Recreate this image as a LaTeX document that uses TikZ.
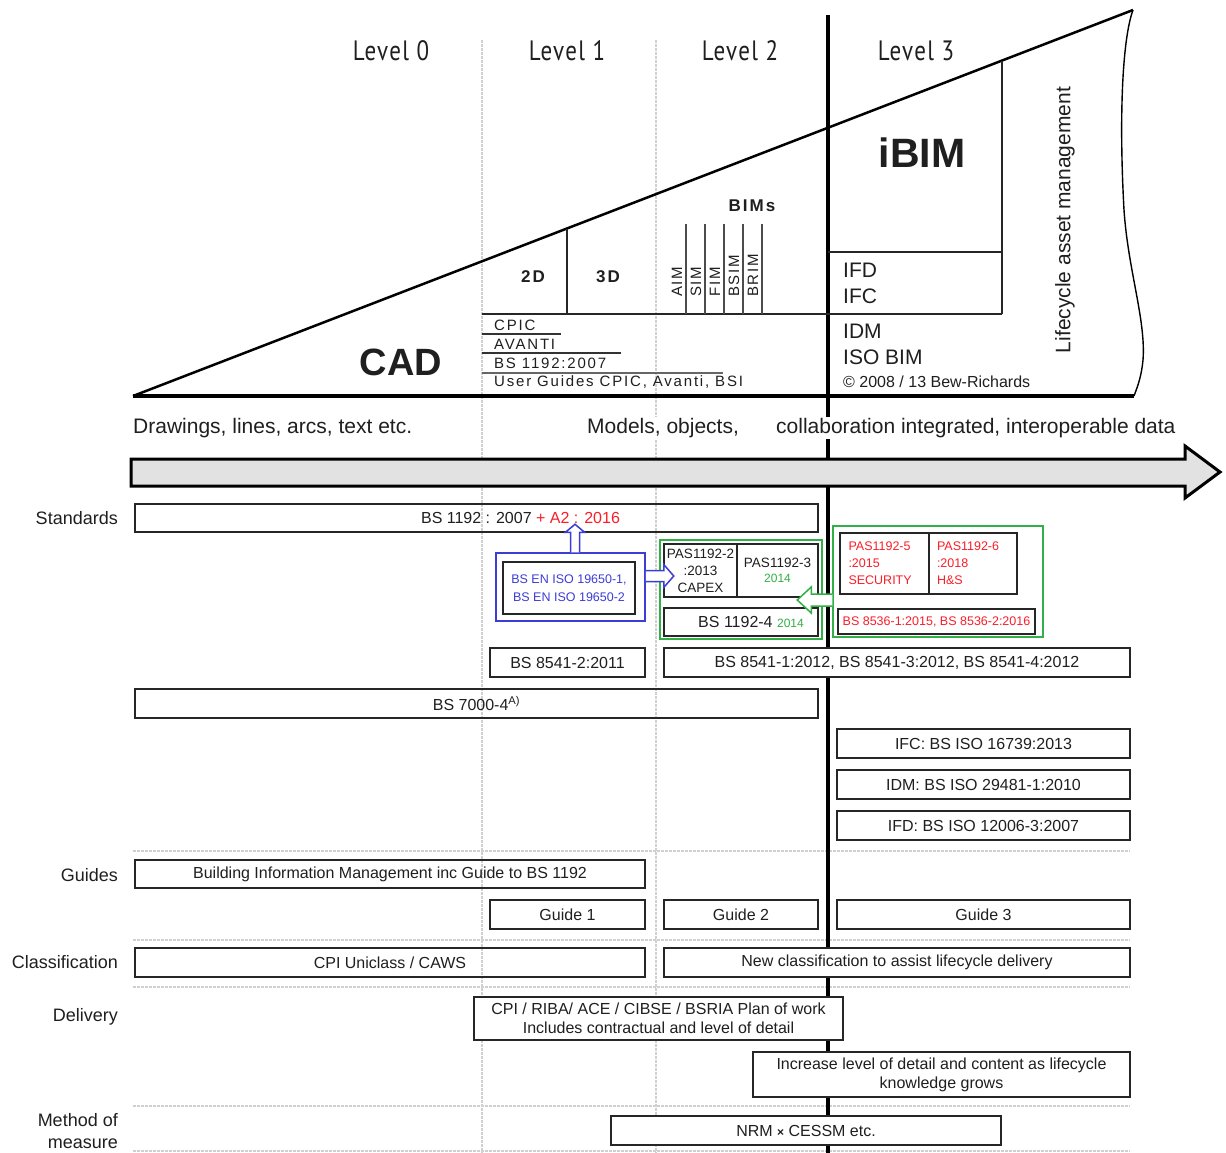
\documentclass[tikz,border=0pt]{standalone}
\usepackage{fontspec}
\setmainfont{Liberation Sans}
\newfontfamily\spacedfont[LetterSpace=12]{Liberation Sans}
\newfontfamily\levelfont[FakeStretch=0.82,LetterSpace=5]{PT Sans}
\usetikzlibrary{calc}
\newcommand\fsz[2]{\fontsize{#1}{#2}\selectfont}
\definecolor{stdred}{RGB}{250,30,40}
\definecolor{stdgreen}{RGB}{50,175,70}
\definecolor{stdblue}{RGB}{60,60,215}
\definecolor{rulegray}{RGB}{208,208,208}
\definecolor{barfill}{RGB}{226,226,226}
\begin{document}
\begin{tikzpicture}[x=1pt,y=-1pt,line join=miter,
  txt/.style={text=black!88, inner sep=0},
  bx/.style={draw=black!85, line width=2.2, inner sep=1, align=center, text=black!88, font=\fsz{16}{19}},
  wbx/.style={bx, fill=white},
  lab/.style={anchor=east, inner sep=0, text=black!88, font=\fsz{18}{22}, align=right},
  rowtxt/.style={anchor=west, inner sep=1, fill=white, text=black!88, font=\fsz{21}{24}},
  grule/.style={draw=rulegray, line width=1.6, dash pattern=on 3pt off 1pt},
  frame/.style={line width=2.2, draw=black!85},
  bimtick/.style={line width=1.8, draw=black!70},
  ul/.style={line width=1.6, draw=black!80},
  lvl/.style={txt, font=\levelfont\fsz{28}{30}},
  spc/.style={txt, font=\spacedfont\fsz{15}{18}},
  pics/hollowarrow/.style n args={5}{code={
    \draw[line width=1.5, fill=white, draw=#1]
      (0,-#3) -- ({#2-#5},-#3) -- ({#2-#5},-#4) -- (#2,0) -- ({#2-#5},#4) -- ({#2-#5},#3) -- (0,#3);
  }}]
\useasboundingbox (0,0) rectangle (1226,1153);
\fill[white] (0,0) rectangle (1226,1153);

% level dividers and row separators
\draw[grule] (482,40) -- (482,1153);
\draw[grule] (656,40) -- (656,1153);
\foreach \yy in {851,940,987,1106,1151} \draw[grule] (133,\yy) -- (1130,\yy);
\draw[line width=4] (828,15) -- (828,1153);

% maturity triangle
\coordinate (tl) at (133,396);
\coordinate (apex) at (1133,10);
\coordinate (br) at (1134,396);
\draw[line width=2.5] (tl) -- (apex);
\draw[line width=3.2] (tl) -- (br);
\draw[line width=1.4] (apex) .. controls (1122,40) and (1119,120) .. (1124,210)
  .. controls (1128,270) and (1146,320) .. (1143,360)
  .. controls (1141,380) and (1136,390) .. (br);
\draw[frame] (482,314) -- (1002,314);
\draw[frame] (567,228.5) -- (567,314);
\draw[frame] (1002,60.6) -- (1002,314);
\draw[frame] (828,252) -- (1002,252);
\foreach \xx in {686,705,724,743,762} \draw[bimtick] (\xx,224) -- (\xx,314);
\draw[ul] (482,334) -- (561,334);
\draw[ul] (482,353) -- (621,353);
\draw[ul, draw=black!60] (482,373) -- (723,373);

% level headings
\node[lvl] (lv0) at (391,51) {Level 0};
\node[lvl] (lv1) at (567,51) {Level 1};
\node[lvl] (lv2) at (740,51) {Level 2};
\node[lvl] (lv3) at (916,51) {Level 3};

% triangle contents
\node[txt, font=\fsz{38}{40}\bfseries] (cad) at (401,362) {CAD};
\node[txt, font=\spacedfont\bfseries\fsz{17}{20}] (d2) at (533,277) {2D};
\node[txt, font=\spacedfont\bfseries\fsz{17}{20}] (d3) at (608,277) {3D};
\node[txt, font=\spacedfont\bfseries\fsz{17}{20}] (bims) at (752,206) {BIMs};
\node[spc, rotate=90, anchor=west] (aim) at (677,297) {AIM};
\node[spc, rotate=90, anchor=west] (sim) at (696,297) {SIM};
\node[spc, rotate=90, anchor=west] (fim) at (715,297) {FIM};
\node[spc, rotate=90, anchor=west] (bsim) at (734,297) {BSIM};
\node[spc, rotate=90, anchor=west] (brim) at (753,297) {BRIM};
\node[spc, anchor=west] (cpic) at (494,325) {CPIC};
\node[spc, anchor=west] (avanti) at (494,344) {AVANTI};
\node[spc, anchor=west] (bs2007) at (494,363) {BS 1192:2007};
\node[spc, anchor=west] (ugs) at (494,382) {User Guides CPIC, Avanti, BSI};
\node[txt, font=\bfseries\fsz{41}{44}] (ibim) at (922,153) {iBIM};
\node[txt, anchor=west, font=\fsz{21}{24}] (ifdt) at (843,270) {IFD};
\node[txt, anchor=west, font=\fsz{21}{24}] (ifct) at (843,296) {IFC};
\node[txt, anchor=west, font=\fsz{21}{24}] (idmt) at (843,331) {IDM};
\node[txt, anchor=west, font=\fsz{21}{24}] (isobim) at (843,357) {ISO BIM};
\node[txt, anchor=west, font=\fsz{16}{19}] (copy) at (843,382) {\textcopyright\ 2008 / 13 Bew-Richards};
\node[txt, rotate=90, font=\fsz{21}{24}] (lam) at (1065,220) {Lifecycle asset management};

% progression arrow
\node[rowtxt] (drw) at (132,428) {Drawings, lines, arcs, text etc.};
\node[rowtxt] (mdl) at (586,428) {Models, objects,};
\node[rowtxt] (col) at (775,428) {collaboration integrated, interoperable data};
\draw[line width=3, fill=barfill] (131,459) -- (1185,459) -- (1185,446) -- (1220,472)
  -- (1185,498) -- (1185,486) -- (131,486) -- cycle;

% standards
\node[lab] (lstd) at (118,518) {Standards};
\node[bx, minimum width=683, minimum height=28] (bs1192) at (476.5,518) {};
\node[txt, font=\fsz{16}{19}] (bs1192t) at ($(bs1192.center)+(44,0)$) {BS 1192 : 2007 {\color{stdred}+ A2 : 2016}};

\node[draw=stdblue, line width=1.5, minimum width=149, minimum height=68] (isoout) at (570.5,587) {};
\node[bx, line width=2, minimum width=132, minimum height=52, text=stdblue, font=\fsz{12.5}{18}] (iso) at (569,588) {BS EN ISO 19650-1,\\BS EN ISO 19650-2};

\node[draw=stdgreen, line width=1.5, minimum width=162, minimum height=99] (gleft) at (741,589.5) {};
\node[bx, line width=2, minimum width=73, minimum height=53, font=\fsz{13.5}{17}] (pas2) at (700.5,570.5) {PAS1192-2\\:2013\\CAPEX};
\node[bx, line width=2, minimum width=81, minimum height=53, font=\fsz{13.5}{15}] (pas3) at (777.5,570.5) {PAS1192-3\\{\color{stdgreen}\fsz{12}{15}2014}};
\node[bx, line width=2, minimum width=154, minimum height=28] (bs11924) at (741,622) {};
\node[txt] (bs11924t) at ($(bs11924.center)+(10,0)$) {\fsz{16}{19}BS 1192-4 {\color{stdgreen}\fsz{12}{14}2014}};

\node[draw=stdgreen, line width=1.5, minimum width=210, minimum height=111] (gright) at (938,581.5) {};
\node[bx, line width=2, minimum width=89, minimum height=61, text width=72, align=left, text=stdred, font=\fsz{12.5}{17}] (pas5) at (884.5,563.5) {PAS1192-5\\:2015\\SECURITY};
\node[bx, line width=2, minimum width=88, minimum height=61, text width=72, align=left, text=stdred, font=\fsz{12.5}{17}] (pas6) at (973,563.5) {PAS1192-6\\:2018\\H\&S};
\node[bx, line width=2, minimum width=197, minimum height=25, text=stdred, font=\fsz{12.5}{15}] (bs8536) at (936.5,621.5) {BS 8536-1:2015, BS 8536-2:2016};

\node[bx, minimum width=155, minimum height=29] (bs85412) at (567.5,662.5) {BS 8541-2:2011};
\node[wbx, minimum width=466, minimum height=29] (bs8541) at (897,662.5) {BS 8541-1:2012, BS 8541-3:2012, BS 8541-4:2012};
\node[bx, minimum width=683, minimum height=29] (bs7000) at (476.5,703.5) {BS 7000-4\textsuperscript{A)}};
\node[bx, minimum width=293, minimum height=29] (ifc) at (983.5,743.5) {IFC: BS ISO 16739:2013};
\node[bx, minimum width=293, minimum height=29] (idm) at (983.5,784.5) {IDM: BS ISO 29481-1:2010};
\node[bx, minimum width=293, minimum height=29] (ifd) at (983.5,825.5) {IFD: BS ISO 12006-3:2007};

% guides
\node[lab] (lgd) at (118,875) {Guides};
\node[bx, minimum width=510, minimum height=28] (bimg) at (390,874) {Building Information Management inc Guide to BS 1192};
\node[bx, minimum width=155, minimum height=29] (g1) at (567.5,914.5) {Guide 1};
\node[bx, minimum width=154, minimum height=29] (g2) at (741,914.5) {Guide 2};
\node[bx, minimum width=293, minimum height=29] (g3) at (983.5,914.5) {Guide 3};

% classification
\node[lab] (lcl) at (118,962) {Classification};
\node[bx, minimum width=510, minimum height=29] (uni) at (390,962.5) {CPI Uniclass / CAWS};
\node[wbx, minimum width=466, minimum height=29] (newcl) at (897,962.5) {New classification to assist lifecycle delivery};

% delivery
\node[lab] (ldl) at (118,1017) {Delivery};
\node[wbx, minimum width=369, minimum height=43] (plan) at (658.5,1018.5) {CPI / RIBA/ ACE / CIBSE / BSRIA Plan of work\\Includes contractual and level of detail};
\node[wbx, minimum width=377, minimum height=45] (incr) at (941.5,1074.5) {Increase level of detail and content as lifecycle\\knowledge grows};

% method of measure
\node[lab] (lmm) at (118,1131) {Method of\\measure};
\node[wbx, minimum width=390, minimum height=29] (nrm) at (806,1130.5) {NRM {\bfseries\fsz{12}{14}×} CESSM etc.};

% links between standards
\pic[rotate=90] at ($(isoout.north)+(4.5,0)$) {hollowarrow={stdblue}{28}{4.5}{9.5}{8}};
\pic at ($(isoout.east)+(0,-11)$) {hollowarrow={stdblue}{28}{5.5}{11.5}{10}};
\pic[rotate=180] at ($(gright.west)+(0,18.5)$) {hollowarrow={stdgreen}{35}{6}{13}{14}};
\end{tikzpicture}
\end{document}
